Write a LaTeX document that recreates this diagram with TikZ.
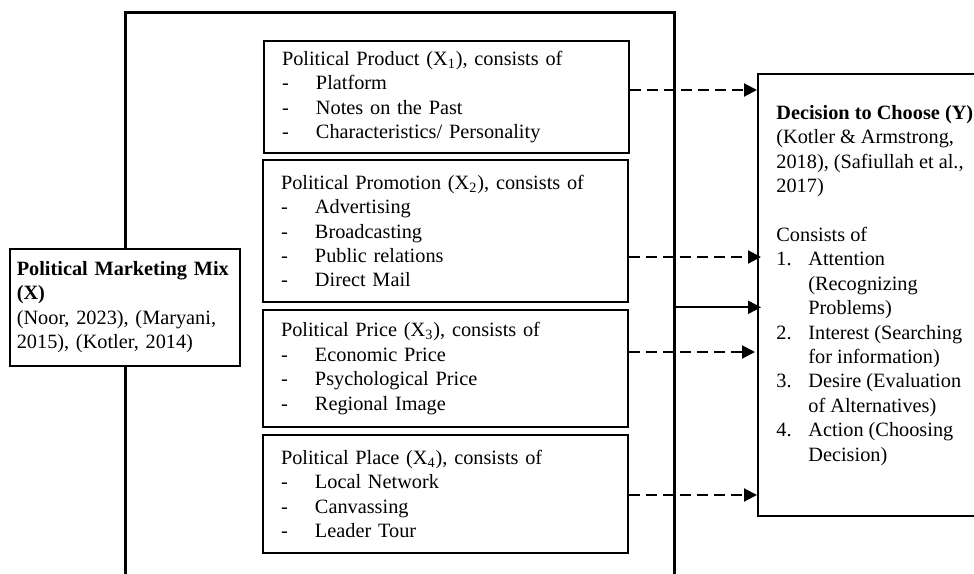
\documentclass[tikz,border=0pt]{standalone}
\usepackage{fontspec}
\setmainfont{Liberation Serif}
\usetikzlibrary{arrows.meta,positioning}

\newcommand{\itemdash}[1]{\makebox[17pt][l]{-}#1}
\newcommand{\itemnum}[2]{\makebox[16pt][l]{#1}#2}

\begin{document}
\begin{tikzpicture}[
  x=0.5pt, y=-0.5pt,
  every node/.style={font=\fontsize{10.15pt}{12.2pt}\selectfont},
  outer/.style={rectangle, draw, line width=1.6pt, anchor=north west,
                minimum width=274.5pt, minimum height=294.5pt},
  factor/.style={rectangle, draw, line width=1pt, fill=white, anchor=north west,
                 align=left, text width=164.5pt, inner xsep=9pt, inner ysep=0pt},
  mix/.style={rectangle, draw, line width=0.8pt, fill=white, anchor=north west,
              align=left, text width=108pt, inner xsep=3.5pt, inner ysep=0pt,
              minimum height=58.5pt},
  outcome/.style={rectangle, draw, line width=1pt, anchor=north west,
                  minimum width=111.5pt, minimum height=221pt},
  outcometext/.style={anchor=north west, align=left, inner sep=0pt},
  flow/.style={-{Triangle[length=6.5pt,width=6.5pt]}, line width=1pt},
  dashflow/.style={flow, dash pattern=on 5.5pt off 3pt},
]
\useasboundingbox (0,0) rectangle (974,573);

% ----------------------------------------------------------- outer frame --
\node[outer] (frame) at (124,11) {};

% ------------------------------------------------------------ left box X --
\node[mix] (mix) at (9,248)
  {\mbox{\textbf{Political Marketing Mix}}\\
   \textbf{(X)}\\
   (Noor, 2023), (Maryani,\\
   2015), (Kotler, 2014)};

% --------------------------------------------------------- factors X1..X4 --
\node[factor, minimum height=56pt] (product) at (263,40)
  {Political Product (X\textsubscript{1}), consists of\\
   \itemdash{Platform}\\
   \itemdash{Notes on the Past}\\
   \itemdash{Characteristics/ Personality}};
\node[factor, minimum height=71pt] (promotion) at (262,159)
  {Political Promotion (X\textsubscript{2}), consists of\\
   \itemdash{Advertising}\\
   \itemdash{Broadcasting}\\
   \itemdash{Public relations}\\
   \itemdash{Direct Mail}};
\node[factor, minimum height=58.5pt] (price) at (262,309)
  {Political Price (X\textsubscript{3}), consists of\\
   \itemdash{Economic Price}\\
   \itemdash{Psychological Price}\\
   \itemdash{Regional Image}};
\node[factor, minimum height=59pt] (place) at (262,434)
  {Political Place (X\textsubscript{4}), consists of\\
   \itemdash{Local Network}\\
   \itemdash{Canvassing}\\
   \itemdash{Leader Tour}};

% ------------------------------------------------------------ right box Y --
\node[outcome] (dec) at (757,73) {};
\node[outcometext] (dectext) at ([xshift=9.5pt,yshift=-16pt]dec.north west)
  {\textbf{Decision to Choose (Y)}\\
   (Kotler \& Armstrong,\\
   2018), (Safiullah et al.,\\
   2017)\\[12.2pt]
   Consists of\\
   \itemnum{1.}{Attention}\\
   \hspace*{16pt}(Recognizing\\
   \hspace*{16pt}Problems)\\
   \itemnum{2.}{Interest (Searching}\\
   \hspace*{16pt}for information)\\
   \itemnum{3.}{Desire (Evaluation}\\
   \hspace*{16pt}of Alternatives)\\
   \itemnum{4.}{Action (Choosing}\\
   \hspace*{16pt}Decision)};

% ----------------------------------------------------------------- arrows --
\draw[dashflow] ([yshift=3.5pt]product.east) -- ([yshift=3.5pt]product.east -| dec.west);
\draw[dashflow] ([yshift=-13pt]promotion.east) -- ([xshift=2pt,yshift=-13pt]promotion.east -| dec.west);
\draw[flow] (mix.east -| frame.east) -- ([xshift=2pt]mix.east -| dec.west);
\draw[dashflow] ([yshift=8.25pt]price.east) -- ([xshift=-1pt,yshift=8.25pt]price.east -| dec.west);
\draw[dashflow] ([yshift=-0.5pt]place.east) -- ([yshift=-0.5pt]place.east -| dec.west);

\end{tikzpicture}
\end{document}
